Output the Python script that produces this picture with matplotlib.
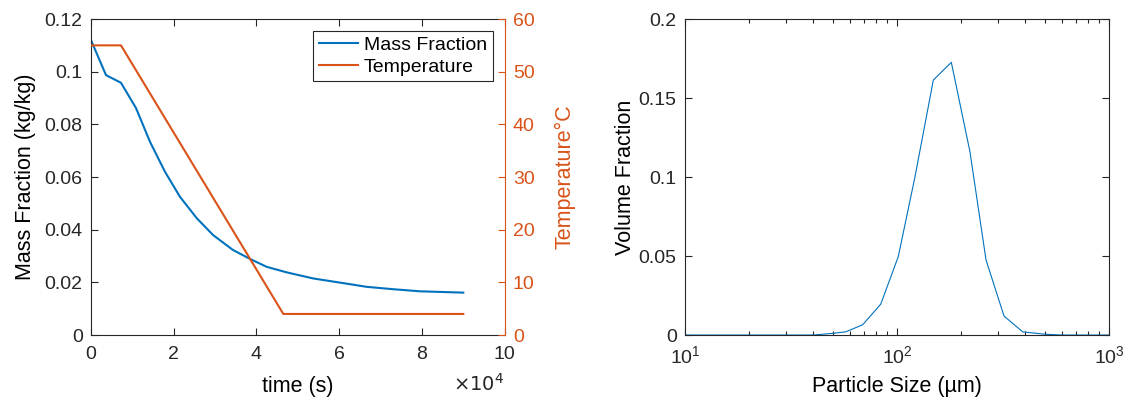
import matplotlib
matplotlib.use("Agg")
import matplotlib.pyplot as plt
from matplotlib.ticker import FuncFormatter, LogLocator, NullFormatter

plt.rcParams['font.family'] = ['Liberation Sans', 'DejaVu Sans']

# drying curve (left)
time_s = [0, 3630, 7250, 10880, 14260, 17890, 21510, 25550, 29490, 34320,
          38430, 42470, 47300, 53660, 60190, 66640, 73000, 79500, 90000]
mass_frac = [0.1120, 0.0987, 0.0958, 0.0862, 0.0734, 0.0620, 0.0525, 0.0444,
             0.0380, 0.0323, 0.0289, 0.0259, 0.0238, 0.0215, 0.0199, 0.0183,
             0.0174, 0.0166, 0.0161]
temp_time = [0, 7250, 46500, 90000]
temp_c = [55, 55, 4, 4]

# particle size distribution (right)
size_um = [10, 12, 15, 18, 22, 27, 33, 40.3, 49.2, 57.3, 68.9, 83.8, 101.4,
           121.6, 148.4, 180.4, 220.9, 263, 319.8, 391.6, 499, 600, 730, 890, 1000]
vol_frac = [0, 0, 0, 0, 0, 0, 0, 0, 0.001, 0.002, 0.0065, 0.0195, 0.0496,
            0.1002, 0.1614, 0.1726, 0.116, 0.0475, 0.012, 0.002, 0.0005,
            0, 0, 0, 0]

blue = '#0072BD'
orange = '#D95319'
dark = '#262626'
tick_fs = 14
label_fs = 15.5

fig = plt.figure(figsize=(11.33, 4.05), dpi=100)

# ---- left panel ----
ax1 = fig.add_axes([0.0803, 0.1728, 0.3651, 0.7802])
l1, = ax1.plot(time_s, mass_frac, color=blue, lw=1.5, label='Mass Fraction')
ax1.set_xlim(0, 1e5)
ax1.set_ylim(0, 0.12)
ax1.set_xticks([0, 2e4, 4e4, 6e4, 8e4, 1e5])
ax1.xaxis.set_major_formatter(FuncFormatter(lambda v, p: f'{v / 1e4:g}'))
ax1.set_yticks([0, 0.02, 0.04, 0.06, 0.08, 0.1, 0.12])
ax1.yaxis.set_major_formatter(FuncFormatter(lambda v, p: f'{v:g}'))
ax1.tick_params(direction='in', length=5, labelsize=tick_fs, colors=dark,
                top=True, right=False, width=0.8)
ax1.tick_params(axis='x', pad=8)
ax1.tick_params(axis='y', pad=6)
ax1.set_xlabel('time (s)', fontsize=label_fs, color='black', labelpad=9)
ax1.set_ylabel('Mass Fraction (kg/kg)', fontsize=label_fs, color='black',
               labelpad=6)
for s in ['left', 'bottom', 'top']:
    ax1.spines[s].set_color(dark)
ax1.spines['right'].set_visible(False)
ax1.text(1.0, -0.155, r'$\times10^{4}$', transform=ax1.transAxes,
         fontsize=tick_fs, color=dark, ha='right', va='center')

ax2 = ax1.twinx()
l2, = ax2.plot(temp_time, temp_c, color=orange, lw=1.5, label='Temperature')
ax2.set_ylim(0, 60)
ax2.set_yticks([0, 10, 20, 30, 40, 50, 60])
ax2.tick_params(direction='in', length=5, labelsize=tick_fs, colors=orange,
                width=0.8, pad=6)
ax2.set_ylabel('Temperature°C', fontsize=label_fs, color=orange, labelpad=14)
ax2.spines['right'].set_color(orange)
for s in ['left', 'bottom', 'top']:
    ax2.spines[s].set_visible(False)

leg = ax2.legend(handles=[l1, l2], loc='upper right', fontsize=14,
                 fancybox=False, edgecolor=dark, framealpha=1,
                 borderaxespad=0.6, handlelength=2.0, handletextpad=0.3,
                 borderpad=0.3, labelspacing=0.2)
leg.get_frame().set_linewidth(0.8)

# ---- right panel ----
ax3 = fig.add_axes([0.6046, 0.1728, 0.3742, 0.7802])
ax3.plot(size_um, vol_frac, color=blue, lw=0.8)
ax3.set_xscale('log')
ax3.set_xlim(10, 1000)
ax3.set_ylim(0, 0.2)
ax3.set_yticks([0, 0.05, 0.1, 0.15, 0.2])
ax3.yaxis.set_major_formatter(FuncFormatter(lambda v, p: f'{v:g}'))
ax3.xaxis.set_minor_locator(LogLocator(base=10, subs=range(2, 10)))
ax3.xaxis.set_minor_formatter(NullFormatter())
ax3.tick_params(which='both', direction='in', labelsize=tick_fs, colors=dark,
                top=True, right=True, width=0.8)
ax3.tick_params(which='major', length=5)
ax3.tick_params(which='minor', length=3)
ax3.tick_params(axis='x', pad=7)
ax3.tick_params(axis='y', pad=6)
ax3.set_xlabel('Particle Size (µm)', fontsize=label_fs, color='black',
               labelpad=7)
ax3.set_ylabel('Volume Fraction', fontsize=label_fs, color='black', labelpad=2)
for s in ax3.spines.values():
    s.set_color(dark)

fig.savefig('out.png', dpi=100)
